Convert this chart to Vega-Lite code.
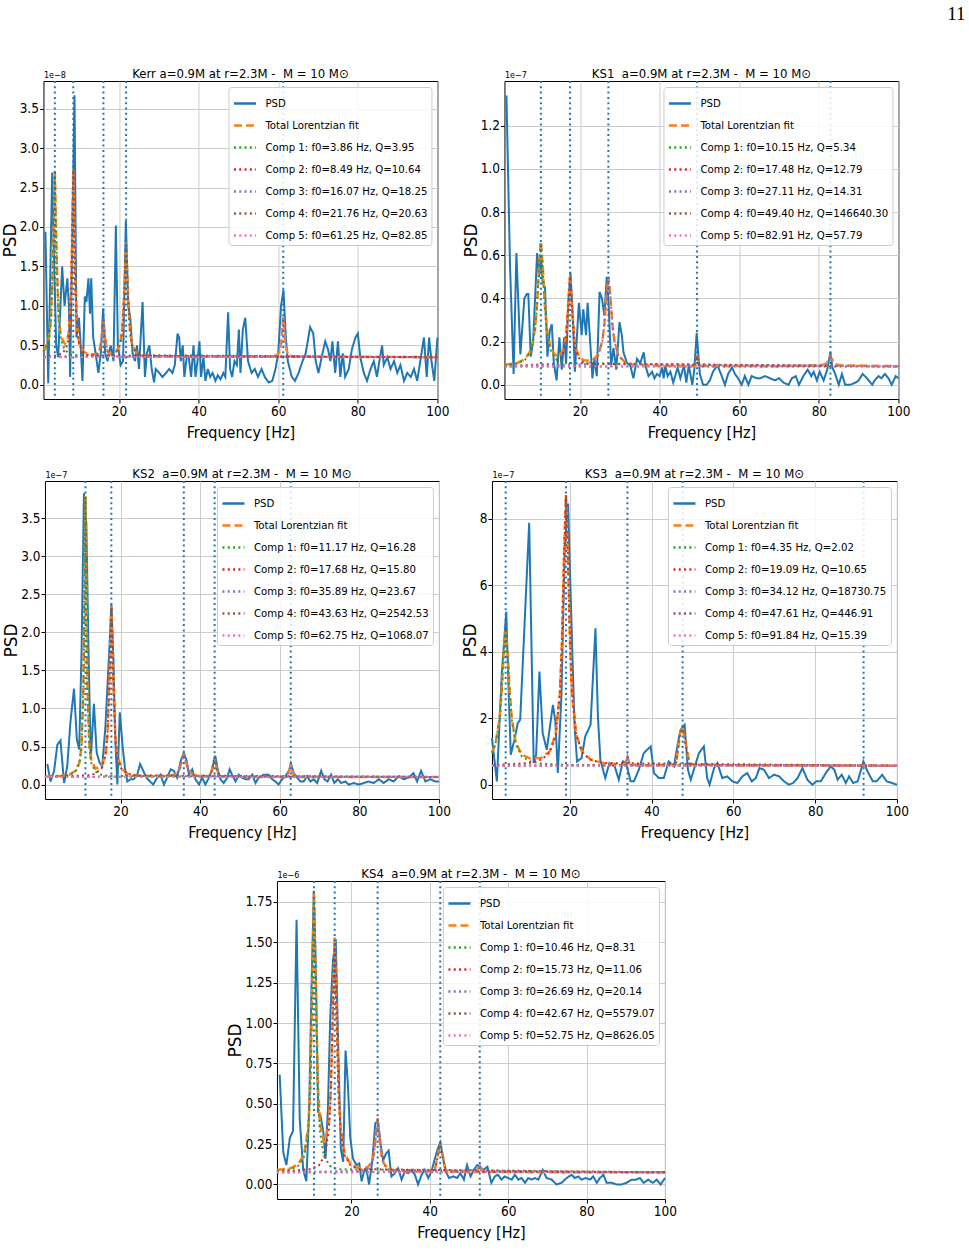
{
"$schema": "https://vega.github.io/schema/vega-lite/v6.json",
"background": "white",
"padding": {"left": 0, "top": 4, "right": 65, "bottom": 0},
"title": {"text": "11", "anchor": "end", "font": "Liberation Serif", "fontSize": 19, "fontWeight": "normal", "color": "#000", "dx": 55, "offset": 44},
"datasets": {
"kerr_f0": [{"f0":3.86},{"f0":8.49},{"f0":16.07},{"f0":21.76},{"f0":61.25}],
"ks1_f0": [{"f0":10.15},{"f0":17.48},{"f0":27.11},{"f0":49.40},{"f0":82.91}],
"ks2_f0": [{"f0":11.17},{"f0":17.68},{"f0":35.89},{"f0":43.63},{"f0":62.75}],
"ks3_f0": [{"f0":4.35},{"f0":19.09},{"f0":34.12},{"f0":47.61},{"f0":91.84}],
"ks4_f0": [{"f0":10.46},{"f0":15.73},{"f0":26.69},{"f0":42.67},{"f0":52.75}],
"kerr": [
{"s":"psd","f":1.5,"v":1.94},{"s":"psd","f":2.2,"v":0.02},{"s":"psd","f":3.2,"v":2.69},{"s":"psd","f":3.7,"v":1.5},{"s":"psd","f":4.2,"v":0.5},{"s":"psd","f":4.7,"v":0.35},{"s":"psd","f":5.7,"v":1.5},{"s":"psd","f":6.3,"v":1.0},{"s":"psd","f":7.0,"v":1.35},{"s":"psd","f":7.4,"v":1.0},{"s":"psd","f":7.7,"v":0.1},{"s":"psd","f":8.8,"v":3.67},{"s":"psd","f":9.3,"v":0.6},{"s":"psd","f":9.9,"v":0.85},{"s":"psd","f":10.3,"v":0.55},{"s":"psd","f":10.8,"v":0.05},{"s":"psd","f":11.4,"v":1.12},{"s":"psd","f":11.8,"v":1.05},{"s":"psd","f":12.3,"v":1.35},{"s":"psd","f":12.7,"v":0.9},{"s":"psd","f":13.0,"v":1.35},{"s":"psd","f":13.5,"v":0.6},{"s":"psd","f":14.1,"v":0.4},{"s":"psd","f":14.8,"v":0.15},{"s":"psd","f":15.4,"v":0.4},{"s":"psd","f":16.0,"v":0.97},{"s":"psd","f":16.5,"v":0.4},{"s":"psd","f":17.1,"v":0.3},{"s":"psd","f":17.9,"v":0.5},{"s":"psd","f":18.6,"v":0.3},{"s":"psd","f":19.2,"v":2.02},{"s":"psd","f":19.7,"v":0.5},{"s":"psd","f":20.4,"v":0.25},{"s":"psd","f":21.0,"v":0.3},{"s":"psd","f":21.7,"v":2.08},{"s":"psd","f":22.3,"v":1.0},{"s":"psd","f":22.8,"v":0.86},{"s":"psd","f":23.4,"v":0.4},{"s":"psd","f":24.0,"v":0.3},{"s":"psd","f":24.5,"v":0.5},{"s":"psd","f":25.0,"v":0.2},{"s":"psd","f":25.9,"v":1.05},{"s":"psd","f":26.5,"v":0.1},{"s":"psd","f":27.0,"v":0.4},{"s":"psd","f":27.6,"v":0.5},{"s":"psd","f":28.2,"v":0.2},{"s":"psd","f":28.8,"v":0.03},{"s":"psd","f":29.2,"v":0.2},{"s":"psd","f":30.1,"v":0.15},{"s":"psd","f":30.9,"v":0.1},{"s":"psd","f":31.8,"v":0.15},{"s":"psd","f":32.6,"v":0.2},{"s":"psd","f":33.4,"v":0.15},{"s":"psd","f":34.0,"v":0.25},{"s":"psd","f":34.7,"v":0.65},{"s":"psd","f":35.1,"v":0.6},{"s":"psd","f":35.5,"v":0.3},{"s":"psd","f":36.0,"v":0.5},{"s":"psd","f":36.4,"v":0.1},{"s":"psd","f":37.0,"v":0.35},{"s":"psd","f":37.5,"v":0.35},{"s":"psd","f":38.1,"v":0.1},{"s":"psd","f":38.7,"v":0.5},{"s":"psd","f":39.2,"v":0.1},{"s":"psd","f":39.7,"v":0.3},{"s":"psd","f":40.2,"v":0.55},{"s":"psd","f":40.6,"v":0.1},{"s":"psd","f":41.2,"v":0.35},{"s":"psd","f":41.7,"v":0.05},{"s":"psd","f":42.3,"v":0.2},{"s":"psd","f":42.9,"v":0.1},{"s":"psd","f":43.5,"v":0.15},{"s":"psd","f":44.2,"v":0.05},{"s":"psd","f":44.8,"v":0.12},{"s":"psd","f":45.5,"v":0.07},{"s":"psd","f":46.2,"v":0.15},{"s":"psd","f":46.7,"v":0.1},{"s":"psd","f":47.4,"v":0.92},{"s":"psd","f":47.9,"v":0.2},{"s":"psd","f":48.4,"v":0.1},{"s":"psd","f":49.0,"v":0.3},{"s":"psd","f":49.6,"v":0.25},{"s":"psd","f":50.1,"v":0.7},{"s":"psd","f":50.5,"v":0.15},{"s":"psd","f":51.1,"v":0.7},{"s":"psd","f":51.7,"v":0.85},{"s":"psd","f":52.4,"v":0.3},{"s":"psd","f":53.3,"v":0.15},{"s":"psd","f":54.1,"v":0.2},{"s":"psd","f":54.9,"v":0.1},{"s":"psd","f":55.8,"v":0.2},{"s":"psd","f":56.6,"v":0.1},{"s":"psd","f":57.6,"v":0.03},{"s":"psd","f":58.5,"v":0.05},{"s":"psd","f":59.3,"v":0.2},{"s":"psd","f":60.0,"v":0.4},{"s":"psd","f":60.7,"v":1.0},{"s":"psd","f":61.3,"v":1.2},{"s":"psd","f":61.9,"v":0.6},{"s":"psd","f":62.4,"v":0.3},{"s":"psd","f":63.4,"v":0.1},{"s":"psd","f":64.2,"v":0.05},{"s":"psd","f":65.1,"v":0.15},{"s":"psd","f":66.1,"v":0.3},{"s":"psd","f":66.9,"v":0.4},{"s":"psd","f":68.0,"v":0.73},{"s":"psd","f":68.8,"v":0.65},{"s":"psd","f":69.4,"v":0.3},{"s":"psd","f":70.1,"v":0.15},{"s":"psd","f":70.9,"v":0.35},{"s":"psd","f":71.8,"v":0.55},{"s":"psd","f":72.5,"v":0.45},{"s":"psd","f":73.1,"v":0.3},{"s":"psd","f":73.6,"v":0.55},{"s":"psd","f":74.3,"v":0.15},{"s":"psd","f":75.0,"v":0.55},{"s":"psd","f":75.6,"v":0.1},{"s":"psd","f":76.2,"v":0.4},{"s":"psd","f":76.8,"v":0.1},{"s":"psd","f":77.7,"v":0.2},{"s":"psd","f":78.5,"v":0.45},{"s":"psd","f":79.4,"v":0.6},{"s":"psd","f":80.0,"v":0.65},{"s":"psd","f":80.6,"v":0.35},{"s":"psd","f":81.5,"v":0.15},{"s":"psd","f":82.3,"v":0.05},{"s":"psd","f":83.2,"v":0.2},{"s":"psd","f":84.0,"v":0.3},{"s":"psd","f":84.8,"v":0.1},{"s":"psd","f":85.4,"v":0.3},{"s":"psd","f":86.1,"v":0.5},{"s":"psd","f":86.5,"v":0.25},{"s":"psd","f":87.4,"v":0.35},{"s":"psd","f":88.2,"v":0.2},{"s":"psd","f":89.1,"v":0.3},{"s":"psd","f":89.9,"v":0.15},{"s":"psd","f":90.7,"v":0.25},{"s":"psd","f":91.6,"v":0.05},{"s":"psd","f":92.4,"v":0.15},{"s":"psd","f":93.3,"v":0.1},{"s":"psd","f":94.1,"v":0.2},{"s":"psd","f":94.9,"v":0.05},{"s":"psd","f":96.0,"v":0.4},{"s":"psd","f":96.6,"v":0.6},{"s":"psd","f":97.3,"v":0.1},{"s":"psd","f":97.9,"v":0.6},{"s":"psd","f":98.5,"v":0.3},{"s":"psd","f":99.2,"v":0.05},{"s":"psd","f":100,"v":0.6},
{"s":"fit","f":1,"v":0.42},{"s":"fit","f":1.36,"v":0.45},{"s":"fit","f":2.36,"v":0.59},{"s":"fit","f":2.86,"v":0.81},{"s":"fit","f":3.36,"v":1.51},{"s":"fit","f":3.86,"v":2.7},{"s":"fit","f":4.36,"v":1.52},{"s":"fit","f":4.86,"v":0.83},{"s":"fit","f":5.36,"v":0.61},{"s":"fit","f":6.36,"v":0.52},{"s":"fit","f":6.99,"v":0.56},{"s":"fit","f":7.49,"v":0.72},{"s":"fit","f":7.99,"v":1.3},{"s":"fit","f":8.49,"v":2.72},{"s":"fit","f":8.99,"v":1.29},{"s":"fit","f":9.49,"v":0.69},{"s":"fit","f":9.99,"v":0.52},{"s":"fit","f":10.99,"v":0.42},{"s":"fit","f":12.49,"v":0.38},{"s":"fit","f":14.57,"v":0.395},{"s":"fit","f":15.07,"v":0.43},{"s":"fit","f":15.57,"v":0.56},{"s":"fit","f":16.07,"v":0.83},{"s":"fit","f":16.57,"v":0.56},{"s":"fit","f":17.07,"v":0.43},{"s":"fit","f":17.57,"v":0.39},{"s":"fit","f":18.57,"v":0.4},{"s":"fit","f":19.26,"v":0.42},{"s":"fit","f":20.26,"v":0.51},{"s":"fit","f":20.76,"v":0.67},{"s":"fit","f":21.26,"v":1.12},{"s":"fit","f":21.76,"v":1.8},{"s":"fit","f":22.26,"v":1.12},{"s":"fit","f":22.76,"v":0.67},{"s":"fit","f":23.26,"v":0.51},{"s":"fit","f":24.26,"v":0.41},{"s":"fit","f":25.76,"v":0.375},{"s":"fit","f":30,"v":0.36},{"s":"fit","f":40,"v":0.355},{"s":"fit","f":55,"v":0.355},{"s":"fit","f":58.75,"v":0.36},{"s":"fit","f":59.75,"v":0.38},{"s":"fit","f":60.25,"v":0.41},{"s":"fit","f":60.75,"v":0.53},{"s":"fit","f":61.25,"v":0.86},{"s":"fit","f":61.75,"v":0.53},{"s":"fit","f":62.25,"v":0.41},{"s":"fit","f":62.75,"v":0.38},{"s":"fit","f":63.75,"v":0.36},{"s":"fit","f":70,"v":0.355},{"s":"fit","f":100,"v":0.35},
{"s":"c1","f":1,"v":0.42},{"s":"c1","f":1.36,"v":0.44},{"s":"c1","f":2.36,"v":0.575},{"s":"c1","f":2.86,"v":0.8},{"s":"c1","f":3.36,"v":1.5},{"s":"c1","f":3.86,"v":2.69},{"s":"c1","f":4.36,"v":1.5},{"s":"c1","f":4.86,"v":0.8},{"s":"c1","f":5.36,"v":0.575},{"s":"c1","f":6.36,"v":0.44},{"s":"c1","f":7.86,"v":0.385},{"s":"c1","f":12,"v":0.36},{"s":"c1","f":100,"v":0.35},
{"s":"c2","f":1,"v":0.357},{"s":"c2","f":4.49,"v":0.37},{"s":"c2","f":5.99,"v":0.41},{"s":"c2","f":6.99,"v":0.505},{"s":"c2","f":7.49,"v":0.67},{"s":"c2","f":7.99,"v":1.26},{"s":"c2","f":8.49,"v":2.69},{"s":"c2","f":8.99,"v":1.26},{"s":"c2","f":9.49,"v":0.67},{"s":"c2","f":9.99,"v":0.505},{"s":"c2","f":10.99,"v":0.41},{"s":"c2","f":12.49,"v":0.37},{"s":"c2","f":100,"v":0.35},
{"s":"c3","f":1,"v":0.35},{"s":"c3","f":12.07,"v":0.356},{"s":"c3","f":13.57,"v":0.365},{"s":"c3","f":14.57,"v":0.39},{"s":"c3","f":15.07,"v":0.43},{"s":"c3","f":15.57,"v":0.56},{"s":"c3","f":16.07,"v":0.83},{"s":"c3","f":16.57,"v":0.56},{"s":"c3","f":17.07,"v":0.43},{"s":"c3","f":17.57,"v":0.39},{"s":"c3","f":18.57,"v":0.365},{"s":"c3","f":20.07,"v":0.356},{"s":"c3","f":100,"v":0.35},
{"s":"c4","f":1,"v":0.35},{"s":"c4","f":17.76,"v":0.375},{"s":"c4","f":19.26,"v":0.41},{"s":"c4","f":20.26,"v":0.51},{"s":"c4","f":20.76,"v":0.67},{"s":"c4","f":21.26,"v":1.12},{"s":"c4","f":21.76,"v":1.8},{"s":"c4","f":22.26,"v":1.12},{"s":"c4","f":22.76,"v":0.67},{"s":"c4","f":23.26,"v":0.51},{"s":"c4","f":24.26,"v":0.41},{"s":"c4","f":25.76,"v":0.375},{"s":"c4","f":100,"v":0.35},
{"s":"c5","f":1,"v":0.35},{"s":"c5","f":57.25,"v":0.354},{"s":"c5","f":58.75,"v":0.36},{"s":"c5","f":59.75,"v":0.38},{"s":"c5","f":60.25,"v":0.41},{"s":"c5","f":60.75,"v":0.53},{"s":"c5","f":61.25,"v":0.86},{"s":"c5","f":61.75,"v":0.53},{"s":"c5","f":62.25,"v":0.41},{"s":"c5","f":62.75,"v":0.38},{"s":"c5","f":63.75,"v":0.36},{"s":"c5","f":65.25,"v":0.354},{"s":"c5","f":100,"v":0.35}
],
"ks1": [
{"s":"psd","f":1.5,"v":1.34},{"s":"psd","f":2.4,"v":0.55},{"s":"psd","f":3.3,"v":0.05},{"s":"psd","f":4.0,"v":0.61},{"s":"psd","f":5.0,"v":0.14},{"s":"psd","f":6.0,"v":0.4},{"s":"psd","f":6.6,"v":0.42},{"s":"psd","f":7.0,"v":0.42},{"s":"psd","f":7.6,"v":0.13},{"s":"psd","f":8.2,"v":0.2},{"s":"psd","f":9.2,"v":0.61},{"s":"psd","f":9.7,"v":0.5},{"s":"psd","f":10.2,"v":0.6},{"s":"psd","f":10.6,"v":0.47},{"s":"psd","f":11.2,"v":0.45},{"s":"psd","f":11.8,"v":0.13},{"s":"psd","f":12.4,"v":0.25},{"s":"psd","f":12.9,"v":0.28},{"s":"psd","f":13.4,"v":0.1},{"s":"psd","f":14.1,"v":0.02},{"s":"psd","f":14.8,"v":0.22},{"s":"psd","f":15.4,"v":0.07},{"s":"psd","f":16.0,"v":0.22},{"s":"psd","f":16.5,"v":0.1},{"s":"psd","f":17.1,"v":0.4},{"s":"psd","f":17.6,"v":0.52},{"s":"psd","f":18.2,"v":0.3},{"s":"psd","f":18.7,"v":0.06},{"s":"psd","f":19.7,"v":0.38},{"s":"psd","f":20.4,"v":0.23},{"s":"psd","f":20.8,"v":0.35},{"s":"psd","f":21.5,"v":0.23},{"s":"psd","f":21.9,"v":0.38},{"s":"psd","f":22.5,"v":0.21},{"s":"psd","f":23.1,"v":0.03},{"s":"psd","f":23.6,"v":0.12},{"s":"psd","f":24.2,"v":0.04},{"s":"psd","f":24.9,"v":0.43},{"s":"psd","f":25.5,"v":0.4},{"s":"psd","f":26.1,"v":0.32},{"s":"psd","f":26.7,"v":0.5},{"s":"psd","f":27.2,"v":0.36},{"s":"psd","f":27.8,"v":0.09},{"s":"psd","f":28.4,"v":0.17},{"s":"psd","f":29.1,"v":0.07},{"s":"psd","f":29.9,"v":0.29},{"s":"psd","f":30.5,"v":0.23},{"s":"psd","f":30.9,"v":0.15},{"s":"psd","f":31.8,"v":0.1},{"s":"psd","f":32.6,"v":0.09},{"s":"psd","f":33.4,"v":0.03},{"s":"psd","f":34.3,"v":0.12},{"s":"psd","f":35.1,"v":0.1},{"s":"psd","f":36.0,"v":0.15},{"s":"psd","f":36.4,"v":0.09},{"s":"psd","f":37.2,"v":0.04},{"s":"psd","f":38.1,"v":0.06},{"s":"psd","f":38.7,"v":0.03},{"s":"psd","f":39.3,"v":0.05},{"s":"psd","f":40.0,"v":0.04},{"s":"psd","f":40.6,"v":0.08},{"s":"psd","f":41.0,"v":0.03},{"s":"psd","f":41.4,"v":0.09},{"s":"psd","f":42.0,"v":0.04},{"s":"psd","f":42.7,"v":0.06},{"s":"psd","f":43.4,"v":0.01},{"s":"psd","f":43.9,"v":0.04},{"s":"psd","f":44.5,"v":0.08},{"s":"psd","f":45.2,"v":0.03},{"s":"psd","f":46.1,"v":0.09},{"s":"psd","f":46.7,"v":0.01},{"s":"psd","f":47.3,"v":0.09},{"s":"psd","f":48.2,"v":0.0},{"s":"psd","f":48.7,"v":0.07},{"s":"psd","f":49.3,"v":0.24},{"s":"psd","f":50.1,"v":0.05},{"s":"psd","f":50.9,"v":0.0},{"s":"psd","f":51.8,"v":0.0},{"s":"psd","f":52.6,"v":0.02},{"s":"psd","f":53.4,"v":0.06},{"s":"psd","f":54.5,"v":0.09},{"s":"psd","f":55.4,"v":0.05},{"s":"psd","f":56.4,"v":0.0},{"s":"psd","f":57.2,"v":0.05},{"s":"psd","f":58.2,"v":0.08},{"s":"psd","f":58.9,"v":0.05},{"s":"psd","f":59.7,"v":0.03},{"s":"psd","f":60.6,"v":0.0},{"s":"psd","f":61.4,"v":0.04},{"s":"psd","f":62.3,"v":0.0},{"s":"psd","f":63.1,"v":0.04},{"s":"psd","f":64.4,"v":0.03},{"s":"psd","f":65.2,"v":0.03},{"s":"psd","f":66.5,"v":0.04},{"s":"psd","f":67.7,"v":0.03},{"s":"psd","f":69.0,"v":0.02},{"s":"psd","f":70.0,"v":0.03},{"s":"psd","f":71.1,"v":0.01},{"s":"psd","f":72.4,"v":0.0},{"s":"psd","f":73.2,"v":0.03},{"s":"psd","f":74.2,"v":0.04},{"s":"psd","f":75.0,"v":0.0},{"s":"psd","f":76.1,"v":0.04},{"s":"psd","f":77.2,"v":0.07},{"s":"psd","f":78.1,"v":0.04},{"s":"psd","f":78.7,"v":0.06},{"s":"psd","f":79.5,"v":0.02},{"s":"psd","f":80.2,"v":0.06},{"s":"psd","f":81.2,"v":0.02},{"s":"psd","f":82.1,"v":0.07},{"s":"psd","f":82.9,"v":0.15},{"s":"psd","f":83.4,"v":0.08},{"s":"psd","f":84.1,"v":0.05},{"s":"psd","f":85.0,"v":0.0},{"s":"psd","f":85.8,"v":0.05},{"s":"psd","f":86.6,"v":0.0},{"s":"psd","f":87.9,"v":0.0},{"s":"psd","f":89.2,"v":0.01},{"s":"psd","f":90.0,"v":0.02},{"s":"psd","f":91.0,"v":0.05},{"s":"psd","f":92.1,"v":0.03},{"s":"psd","f":93.4,"v":0.0},{"s":"psd","f":94.0,"v":0.02},{"s":"psd","f":95.0,"v":0.04},{"s":"psd","f":95.7,"v":0.03},{"s":"psd","f":96.6,"v":0.05},{"s":"psd","f":97.5,"v":0.03},{"s":"psd","f":98.3,"v":0.0},{"s":"psd","f":99.3,"v":0.04},{"s":"psd","f":100,"v":0.03},
{"s":"fit","f":1,"v":0.093},{"s":"fit","f":4.15,"v":0.1},{"s":"fit","f":6.15,"v":0.118},{"s":"fit","f":7.65,"v":0.16},{"s":"fit","f":8.65,"v":0.255},{"s":"fit","f":9.15,"v":0.365},{"s":"fit","f":9.65,"v":0.54},{"s":"fit","f":10.15,"v":0.665},{"s":"fit","f":10.65,"v":0.54},{"s":"fit","f":11.15,"v":0.37},{"s":"fit","f":11.65,"v":0.26},{"s":"fit","f":12.65,"v":0.165},{"s":"fit","f":14.15,"v":0.13},{"s":"fit","f":14.98,"v":0.135},{"s":"fit","f":15.98,"v":0.17},{"s":"fit","f":16.48,"v":0.23},{"s":"fit","f":16.98,"v":0.365},{"s":"fit","f":17.48,"v":0.51},{"s":"fit","f":17.98,"v":0.363},{"s":"fit","f":18.48,"v":0.224},{"s":"fit","f":18.98,"v":0.163},{"s":"fit","f":19.98,"v":0.124},{"s":"fit","f":21.11,"v":0.112},{"s":"fit","f":23.11,"v":0.113},{"s":"fit","f":24.61,"v":0.141},{"s":"fit","f":25.61,"v":0.204},{"s":"fit","f":26.11,"v":0.28},{"s":"fit","f":26.61,"v":0.41},{"s":"fit","f":27.11,"v":0.5},{"s":"fit","f":27.61,"v":0.41},{"s":"fit","f":28.11,"v":0.28},{"s":"fit","f":28.61,"v":0.204},{"s":"fit","f":29.61,"v":0.137},{"s":"fit","f":31.11,"v":0.107},{"s":"fit","f":33.11,"v":0.095},{"s":"fit","f":40,"v":0.088},{"s":"fit","f":48.7,"v":0.087},{"s":"fit","f":49.4,"v":0.13},{"s":"fit","f":50.1,"v":0.087},{"s":"fit","f":70,"v":0.086},{"s":"fit","f":80.41,"v":0.09},{"s":"fit","f":81.41,"v":0.094},{"s":"fit","f":81.91,"v":0.1},{"s":"fit","f":82.41,"v":0.115},{"s":"fit","f":82.91,"v":0.13},{"s":"fit","f":83.41,"v":0.115},{"s":"fit","f":83.91,"v":0.1},{"s":"fit","f":84.41,"v":0.094},{"s":"fit","f":85.41,"v":0.09},{"s":"fit","f":100,"v":0.086},
{"s":"c1","f":1,"v":0.09},{"s":"c1","f":4.15,"v":0.1},{"s":"c1","f":6.15,"v":0.115},{"s":"c1","f":7.65,"v":0.157},{"s":"c1","f":8.65,"v":0.25},{"s":"c1","f":9.15,"v":0.36},{"s":"c1","f":9.65,"v":0.535},{"s":"c1","f":10.15,"v":0.66},{"s":"c1","f":10.65,"v":0.535},{"s":"c1","f":11.15,"v":0.36},{"s":"c1","f":11.65,"v":0.25},{"s":"c1","f":12.65,"v":0.157},{"s":"c1","f":14.15,"v":0.115},{"s":"c1","f":16.15,"v":0.1},{"s":"c1","f":100,"v":0.085},
{"s":"c2","f":1,"v":0.086},{"s":"c2","f":13.48,"v":0.097},{"s":"c2","f":14.98,"v":0.114},{"s":"c2","f":15.98,"v":0.156},{"s":"c2","f":16.48,"v":0.216},{"s":"c2","f":16.98,"v":0.354},{"s":"c2","f":17.48,"v":0.5},{"s":"c2","f":17.98,"v":0.354},{"s":"c2","f":18.48,"v":0.216},{"s":"c2","f":18.98,"v":0.156},{"s":"c2","f":19.98,"v":0.114},{"s":"c2","f":21.48,"v":0.097},{"s":"c2","f":100,"v":0.085},
{"s":"c3","f":1,"v":0.086},{"s":"c3","f":21.11,"v":0.095},{"s":"c3","f":23.11,"v":0.107},{"s":"c3","f":24.61,"v":0.137},{"s":"c3","f":25.61,"v":0.204},{"s":"c3","f":26.11,"v":0.28},{"s":"c3","f":26.61,"v":0.41},{"s":"c3","f":27.11,"v":0.5},{"s":"c3","f":27.61,"v":0.41},{"s":"c3","f":28.11,"v":0.28},{"s":"c3","f":28.61,"v":0.204},{"s":"c3","f":29.61,"v":0.137},{"s":"c3","f":31.11,"v":0.107},{"s":"c3","f":33.11,"v":0.095},{"s":"c3","f":100,"v":0.085},
{"s":"c4","f":1,"v":0.085},{"s":"c4","f":48.7,"v":0.085},{"s":"c4","f":49.4,"v":0.13},{"s":"c4","f":50.1,"v":0.085},{"s":"c4","f":100,"v":0.085},
{"s":"c5","f":1,"v":0.085},{"s":"c5","f":80.41,"v":0.089},{"s":"c5","f":81.41,"v":0.093},{"s":"c5","f":81.91,"v":0.1},{"s":"c5","f":82.41,"v":0.115},{"s":"c5","f":82.91,"v":0.13},{"s":"c5","f":83.41,"v":0.115},{"s":"c5","f":83.91,"v":0.1},{"s":"c5","f":84.41,"v":0.093},{"s":"c5","f":85.41,"v":0.089},{"s":"c5","f":100,"v":0.085}
],
"ks2": [
{"s":"psd","f":1.6,"v":0.27},{"s":"psd","f":2.4,"v":0.04},{"s":"psd","f":3.3,"v":0.18},{"s":"psd","f":4.1,"v":0.52},{"s":"psd","f":4.9,"v":0.58},{"s":"psd","f":5.8,"v":0.02},{"s":"psd","f":6.6,"v":0.24},{"s":"psd","f":7.4,"v":0.82},{"s":"psd","f":8.3,"v":1.26},{"s":"psd","f":9.0,"v":0.6},{"s":"psd","f":9.6,"v":0.46},{"s":"psd","f":10.2,"v":1.75},{"s":"psd","f":10.8,"v":3.83},{"s":"psd","f":11.4,"v":3.43},{"s":"psd","f":11.9,"v":1.88},{"s":"psd","f":12.5,"v":0.33},{"s":"psd","f":13.3,"v":1.06},{"s":"psd","f":14.0,"v":0.42},{"s":"psd","f":14.7,"v":0.29},{"s":"psd","f":15.4,"v":0.24},{"s":"psd","f":16.2,"v":0.77},{"s":"psd","f":17.1,"v":1.7},{"s":"psd","f":17.7,"v":2.37},{"s":"psd","f":18.2,"v":1.66},{"s":"psd","f":18.7,"v":0.55},{"s":"psd","f":19.2,"v":0.0},{"s":"psd","f":19.8,"v":0.95},{"s":"psd","f":20.5,"v":0.51},{"s":"psd","f":21.1,"v":0.22},{"s":"psd","f":21.7,"v":0.04},{"s":"psd","f":22.5,"v":0.07},{"s":"psd","f":23.3,"v":0.07},{"s":"psd","f":24.2,"v":0.13},{"s":"psd","f":24.9,"v":0.27},{"s":"psd","f":25.7,"v":0.18},{"s":"psd","f":26.5,"v":0.09},{"s":"psd","f":27.4,"v":0.04},{"s":"psd","f":28.2,"v":0.0},{"s":"psd","f":29.2,"v":0.09},{"s":"psd","f":30.0,"v":0.13},{"s":"psd","f":30.9,"v":0.0},{"s":"psd","f":31.7,"v":0.09},{"s":"psd","f":32.6,"v":0.2},{"s":"psd","f":33.4,"v":0.18},{"s":"psd","f":34.2,"v":0.09},{"s":"psd","f":35.1,"v":0.31},{"s":"psd","f":35.9,"v":0.42},{"s":"psd","f":36.6,"v":0.31},{"s":"psd","f":37.2,"v":0.13},{"s":"psd","f":38.0,"v":0.2},{"s":"psd","f":38.8,"v":0.07},{"s":"psd","f":39.7,"v":0.0},{"s":"psd","f":40.5,"v":0.09},{"s":"psd","f":41.3,"v":0.0},{"s":"psd","f":42.2,"v":0.09},{"s":"psd","f":43.0,"v":0.2},{"s":"psd","f":43.8,"v":0.38},{"s":"psd","f":44.4,"v":0.2},{"s":"psd","f":45.1,"v":0.07},{"s":"psd","f":45.9,"v":0.02},{"s":"psd","f":46.8,"v":0.09},{"s":"psd","f":47.4,"v":0.2},{"s":"psd","f":48.0,"v":0.13},{"s":"psd","f":48.9,"v":0.04},{"s":"psd","f":49.7,"v":0.13},{"s":"psd","f":50.5,"v":0.09},{"s":"psd","f":51.4,"v":0.07},{"s":"psd","f":52.2,"v":0.07},{"s":"psd","f":53.1,"v":0.13},{"s":"psd","f":53.9,"v":0.02},{"s":"psd","f":54.7,"v":0.09},{"s":"psd","f":56.0,"v":0.13},{"s":"psd","f":57.2,"v":0.13},{"s":"psd","f":58.1,"v":0.07},{"s":"psd","f":58.9,"v":0.04},{"s":"psd","f":59.7,"v":0.0},{"s":"psd","f":60.6,"v":0.07},{"s":"psd","f":61.4,"v":0.11},{"s":"psd","f":62.3,"v":0.18},{"s":"psd","f":62.8,"v":0.28},{"s":"psd","f":63.5,"v":0.15},{"s":"psd","f":64.4,"v":0.09},{"s":"psd","f":65.2,"v":0.04},{"s":"psd","f":66.0,"v":0.04},{"s":"psd","f":66.9,"v":0.11},{"s":"psd","f":67.7,"v":0.04},{"s":"psd","f":68.5,"v":0.07},{"s":"psd","f":69.4,"v":0.02},{"s":"psd","f":70.4,"v":0.18},{"s":"psd","f":71.2,"v":0.07},{"s":"psd","f":72.0,"v":0.04},{"s":"psd","f":72.9,"v":0.13},{"s":"psd","f":73.7,"v":0.02},{"s":"psd","f":74.6,"v":0.07},{"s":"psd","f":75.4,"v":0.02},{"s":"psd","f":76.5,"v":0.04},{"s":"psd","f":77.3,"v":0.0},{"s":"psd","f":78.6,"v":0.02},{"s":"psd","f":79.8,"v":0.0},{"s":"psd","f":81.1,"v":0.02},{"s":"psd","f":82.3,"v":0.04},{"s":"psd","f":83.6,"v":0.02},{"s":"psd","f":84.9,"v":0.07},{"s":"psd","f":86.1,"v":0.02},{"s":"psd","f":87.4,"v":0.07},{"s":"psd","f":88.6,"v":0.04},{"s":"psd","f":89.9,"v":0.11},{"s":"psd","f":91.1,"v":0.07},{"s":"psd","f":92.4,"v":0.09},{"s":"psd","f":93.6,"v":0.15},{"s":"psd","f":94.5,"v":0.04},{"s":"psd","f":95.5,"v":0.18},{"s":"psd","f":96.6,"v":0.04},{"s":"psd","f":97.8,"v":0.07},{"s":"psd","f":99.1,"v":0.04},{"s":"psd","f":100,"v":0.04},
{"s":"fit","f":1,"v":0.104},{"s":"fit","f":5.17,"v":0.115},{"s":"fit","f":7.17,"v":0.13},{"s":"fit","f":8.67,"v":0.18},{"s":"fit","f":9.67,"v":0.29},{"s":"fit","f":10.17,"v":0.5},{"s":"fit","f":10.67,"v":1.29},{"s":"fit","f":11.17,"v":3.79},{"s":"fit","f":11.67,"v":1.3},{"s":"fit","f":12.17,"v":0.51},{"s":"fit","f":12.67,"v":0.31},{"s":"fit","f":13.68,"v":0.21},{"s":"fit","f":15.18,"v":0.24},{"s":"fit","f":16.18,"v":0.385},{"s":"fit","f":16.68,"v":0.64},{"s":"fit","f":17.18,"v":1.35},{"s":"fit","f":17.68,"v":2.34},{"s":"fit","f":18.18,"v":1.35},{"s":"fit","f":18.68,"v":0.64},{"s":"fit","f":19.18,"v":0.38},{"s":"fit","f":20.18,"v":0.215},{"s":"fit","f":21.68,"v":0.145},{"s":"fit","f":23.68,"v":0.12},{"s":"fit","f":28,"v":0.11},{"s":"fit","f":31.89,"v":0.115},{"s":"fit","f":33.39,"v":0.13},{"s":"fit","f":34.39,"v":0.165},{"s":"fit","f":34.89,"v":0.21},{"s":"fit","f":35.39,"v":0.31},{"s":"fit","f":35.89,"v":0.4},{"s":"fit","f":36.39,"v":0.31},{"s":"fit","f":36.89,"v":0.21},{"s":"fit","f":37.39,"v":0.165},{"s":"fit","f":38.39,"v":0.13},{"s":"fit","f":39.89,"v":0.115},{"s":"fit","f":42.4,"v":0.11},{"s":"fit","f":43.0,"v":0.2},{"s":"fit","f":43.63,"v":0.36},{"s":"fit","f":44.2,"v":0.2},{"s":"fit","f":44.8,"v":0.11},{"s":"fit","f":50,"v":0.1},{"s":"fit","f":61.6,"v":0.1},{"s":"fit","f":62.2,"v":0.15},{"s":"fit","f":62.75,"v":0.25},{"s":"fit","f":63.3,"v":0.15},{"s":"fit","f":63.9,"v":0.1},{"s":"fit","f":100,"v":0.1},
{"s":"c1","f":1,"v":0.104},{"s":"c1","f":5.17,"v":0.112},{"s":"c1","f":7.17,"v":0.127},{"s":"c1","f":8.67,"v":0.17},{"s":"c1","f":9.67,"v":0.28},{"s":"c1","f":10.17,"v":0.49},{"s":"c1","f":10.67,"v":1.28},{"s":"c1","f":11.17,"v":3.78},{"s":"c1","f":11.67,"v":1.28},{"s":"c1","f":12.17,"v":0.49},{"s":"c1","f":12.67,"v":0.28},{"s":"c1","f":13.67,"v":0.17},{"s":"c1","f":15.17,"v":0.127},{"s":"c1","f":17.17,"v":0.112},{"s":"c1","f":100,"v":0.1},
{"s":"c2","f":1,"v":0.1},{"s":"c2","f":11.68,"v":0.12},{"s":"c2","f":13.68,"v":0.143},{"s":"c2","f":15.18,"v":0.21},{"s":"c2","f":16.18,"v":0.37},{"s":"c2","f":16.68,"v":0.63},{"s":"c2","f":17.18,"v":1.34},{"s":"c2","f":17.68,"v":2.33},{"s":"c2","f":18.18,"v":1.34},{"s":"c2","f":18.68,"v":0.63},{"s":"c2","f":19.18,"v":0.37},{"s":"c2","f":20.18,"v":0.21},{"s":"c2","f":21.68,"v":0.143},{"s":"c2","f":23.68,"v":0.12},{"s":"c2","f":100,"v":0.1},
{"s":"c3","f":1,"v":0.1},{"s":"c3","f":31.89,"v":0.11},{"s":"c3","f":33.39,"v":0.125},{"s":"c3","f":34.39,"v":0.162},{"s":"c3","f":34.89,"v":0.21},{"s":"c3","f":35.39,"v":0.31},{"s":"c3","f":35.89,"v":0.4},{"s":"c3","f":36.39,"v":0.31},{"s":"c3","f":36.89,"v":0.21},{"s":"c3","f":37.39,"v":0.162},{"s":"c3","f":38.39,"v":0.125},{"s":"c3","f":39.89,"v":0.11},{"s":"c3","f":100,"v":0.1},
{"s":"c4","f":1,"v":0.1},{"s":"c4","f":42.4,"v":0.1},{"s":"c4","f":43.0,"v":0.19},{"s":"c4","f":43.63,"v":0.36},{"s":"c4","f":44.2,"v":0.19},{"s":"c4","f":44.8,"v":0.1},{"s":"c4","f":100,"v":0.1},
{"s":"c5","f":1,"v":0.1},{"s":"c5","f":61.6,"v":0.1},{"s":"c5","f":62.2,"v":0.15},{"s":"c5","f":62.75,"v":0.25},{"s":"c5","f":63.3,"v":0.15},{"s":"c5","f":63.9,"v":0.1},{"s":"c5","f":100,"v":0.1}
],
"ks3": [
{"s":"psd","f":1.0,"v":1.4},{"s":"psd","f":2.2,"v":0.1},{"s":"psd","f":3.4,"v":3.35},{"s":"psd","f":4.5,"v":5.2},{"s":"psd","f":5.1,"v":2.75},{"s":"psd","f":5.6,"v":0.9},{"s":"psd","f":6.5,"v":1.35},{"s":"psd","f":7.3,"v":1.85},{"s":"psd","f":7.9,"v":1.95},{"s":"psd","f":10.1,"v":7.87},{"s":"psd","f":11.2,"v":0.65},{"s":"psd","f":11.8,"v":0.9},{"s":"psd","f":12.6,"v":3.4},{"s":"psd","f":13.4,"v":1.55},{"s":"psd","f":14.4,"v":1.05},{"s":"psd","f":15.9,"v":2.4},{"s":"psd","f":16.5,"v":1.9},{"s":"psd","f":17.1,"v":0.35},{"s":"psd","f":18.0,"v":2.75},{"s":"psd","f":18.8,"v":7.15},{"s":"psd","f":19.6,"v":8.45},{"s":"psd","f":20.6,"v":4.15},{"s":"psd","f":21.2,"v":1.75},{"s":"psd","f":21.8,"v":0.7},{"s":"psd","f":22.9,"v":0.8},{"s":"psd","f":23.8,"v":1.45},{"s":"psd","f":25.1,"v":1.8},{"s":"psd","f":26.3,"v":4.7},{"s":"psd","f":26.9,"v":2.05},{"s":"psd","f":27.5,"v":0.75},{"s":"psd","f":28.7,"v":0.2},{"s":"psd","f":29.7,"v":0.65},{"s":"psd","f":31.0,"v":0.55},{"s":"psd","f":32.0,"v":0.15},{"s":"psd","f":33.0,"v":0.7},{"s":"psd","f":33.8,"v":0.65},{"s":"psd","f":34.9,"v":0.1},{"s":"psd","f":35.7,"v":0.1},{"s":"psd","f":36.9,"v":0.45},{"s":"psd","f":38.1,"v":0.95},{"s":"psd","f":39.8,"v":1.15},{"s":"psd","f":40.6,"v":0.35},{"s":"psd","f":41.8,"v":0.2},{"s":"psd","f":43.0,"v":0.2},{"s":"psd","f":44.2,"v":0.7},{"s":"psd","f":45.5,"v":0.55},{"s":"psd","f":46.3,"v":1.15},{"s":"psd","f":47.1,"v":1.65},{"s":"psd","f":48.1,"v":1.8},{"s":"psd","f":48.9,"v":0.45},{"s":"psd","f":49.6,"v":0.15},{"s":"psd","f":51.6,"v":0.95},{"s":"psd","f":52.8,"v":1.15},{"s":"psd","f":53.6,"v":0.2},{"s":"psd","f":54.2,"v":0.0},{"s":"psd","f":55.3,"v":0.5},{"s":"psd","f":56.1,"v":0.65},{"s":"psd","f":57.3,"v":0.2},{"s":"psd","f":58.5,"v":0.25},{"s":"psd","f":59.8,"v":0.1},{"s":"psd","f":61.0,"v":0.05},{"s":"psd","f":62.2,"v":0.25},{"s":"psd","f":63.4,"v":0.35},{"s":"psd","f":64.5,"v":0.1},{"s":"psd","f":65.5,"v":0.2},{"s":"psd","f":66.4,"v":0.5},{"s":"psd","f":67.5,"v":0.45},{"s":"psd","f":68.7,"v":0.2},{"s":"psd","f":70.0,"v":0.3},{"s":"psd","f":71.2,"v":0.25},{"s":"psd","f":72.4,"v":0.1},{"s":"psd","f":73.6,"v":0.0},{"s":"psd","f":74.6,"v":0.05},{"s":"psd","f":75.7,"v":0.2},{"s":"psd","f":76.9,"v":0.5},{"s":"psd","f":78.1,"v":0.15},{"s":"psd","f":79.3,"v":0.0},{"s":"psd","f":80.3,"v":0.1},{"s":"psd","f":81.4,"v":0.1},{"s":"psd","f":82.6,"v":0.35},{"s":"psd","f":83.8,"v":0.55},{"s":"psd","f":84.7,"v":0.45},{"s":"psd","f":85.5,"v":0.15},{"s":"psd","f":86.5,"v":0.3},{"s":"psd","f":87.5,"v":0.05},{"s":"psd","f":88.3,"v":0.25},{"s":"psd","f":89.3,"v":0.05},{"s":"psd","f":90.4,"v":0.1},{"s":"psd","f":91.8,"v":0.7},{"s":"psd","f":92.8,"v":0.4},{"s":"psd","f":94.1,"v":0.1},{"s":"psd","f":95.0,"v":0.1},{"s":"psd","f":96.4,"v":0.3},{"s":"psd","f":97.5,"v":0.1},{"s":"psd","f":98.8,"v":0.05},{"s":"psd","f":100,"v":0.0},
{"s":"fit","f":1,"v":0.97},{"s":"fit","f":1.85,"v":1.23},{"s":"fit","f":2.85,"v":1.97},{"s":"fit","f":3.35,"v":2.77},{"s":"fit","f":3.85,"v":3.93},{"s":"fit","f":4.35,"v":4.65},{"s":"fit","f":4.85,"v":3.93},{"s":"fit","f":5.35,"v":2.77},{"s":"fit","f":5.85,"v":1.98},{"s":"fit","f":6.85,"v":1.25},{"s":"fit","f":8.35,"v":0.9},{"s":"fit","f":10.35,"v":0.785},{"s":"fit","f":13.09,"v":0.81},{"s":"fit","f":15.09,"v":1.0},{"s":"fit","f":16.59,"v":1.525},{"s":"fit","f":17.59,"v":2.735},{"s":"fit","f":18.09,"v":4.21},{"s":"fit","f":18.59,"v":6.79},{"s":"fit","f":19.09,"v":8.72},{"s":"fit","f":19.59,"v":6.79},{"s":"fit","f":20.09,"v":4.21},{"s":"fit","f":20.59,"v":2.73},{"s":"fit","f":21.59,"v":1.51},{"s":"fit","f":23.09,"v":0.97},{"s":"fit","f":25.09,"v":0.76},{"s":"fit","f":28.09,"v":0.655},{"s":"fit","f":33.5,"v":0.6},{"s":"fit","f":34.12,"v":0.85},{"s":"fit","f":34.7,"v":0.6},{"s":"fit","f":40,"v":0.58},{"s":"fit","f":46.0,"v":0.62},{"s":"fit","f":46.9,"v":1.5},{"s":"fit","f":47.61,"v":1.75},{"s":"fit","f":48.4,"v":1.2},{"s":"fit","f":49.3,"v":0.62},{"s":"fit","f":60,"v":0.575},{"s":"fit","f":100,"v":0.575},
{"s":"c1","f":1,"v":0.95},{"s":"c1","f":1.85,"v":1.21},{"s":"c1","f":2.85,"v":1.945},{"s":"c1","f":3.35,"v":2.74},{"s":"c1","f":3.85,"v":3.9},{"s":"c1","f":4.35,"v":4.62},{"s":"c1","f":4.85,"v":3.9},{"s":"c1","f":5.35,"v":2.74},{"s":"c1","f":5.85,"v":1.945},{"s":"c1","f":6.85,"v":1.21},{"s":"c1","f":8.35,"v":0.84},{"s":"c1","f":10.35,"v":0.7},{"s":"c1","f":13.35,"v":0.63},{"s":"c1","f":20,"v":0.59},{"s":"c1","f":100,"v":0.57},
{"s":"c2","f":1,"v":0.59},{"s":"c2","f":10.09,"v":0.65},{"s":"c2","f":13.09,"v":0.75},{"s":"c2","f":15.09,"v":0.96},{"s":"c2","f":16.59,"v":1.495},{"s":"c2","f":17.59,"v":2.71},{"s":"c2","f":18.09,"v":4.19},{"s":"c2","f":18.59,"v":6.77},{"s":"c2","f":19.09,"v":8.7},{"s":"c2","f":19.59,"v":6.77},{"s":"c2","f":20.09,"v":4.19},{"s":"c2","f":20.59,"v":2.71},{"s":"c2","f":21.59,"v":1.495},{"s":"c2","f":23.09,"v":0.96},{"s":"c2","f":25.09,"v":0.75},{"s":"c2","f":28.09,"v":0.65},{"s":"c2","f":100,"v":0.57},
{"s":"c3","f":1,"v":0.57},{"s":"c3","f":33.5,"v":0.57},{"s":"c3","f":34.12,"v":0.85},{"s":"c3","f":34.7,"v":0.57},{"s":"c3","f":100,"v":0.57},
{"s":"c4","f":1,"v":0.57},{"s":"c4","f":46.0,"v":0.6},{"s":"c4","f":46.9,"v":1.45},{"s":"c4","f":47.61,"v":1.75},{"s":"c4","f":48.4,"v":1.15},{"s":"c4","f":49.3,"v":0.6},{"s":"c4","f":100,"v":0.57},
{"s":"c5","f":1,"v":0.57},{"s":"c5","f":85,"v":0.572},{"s":"c5","f":91.84,"v":0.58},{"s":"c5","f":98,"v":0.572},{"s":"c5","f":100,"v":0.571}
],
"ks4": [
{"s":"psd","f":1.7,"v":0.68},{"s":"psd","f":2.6,"v":0.2},{"s":"psd","f":3.4,"v":0.12},{"s":"psd","f":4.3,"v":0.29},{"s":"psd","f":5.1,"v":0.33},{"s":"psd","f":6.0,"v":1.64},{"s":"psd","f":6.8,"v":0.41},{"s":"psd","f":7.7,"v":0.09},{"s":"psd","f":8.5,"v":0.02},{"s":"psd","f":9.2,"v":0.45},{"s":"psd","f":9.8,"v":1.2},{"s":"psd","f":10.4,"v":1.82},{"s":"psd","f":10.9,"v":1.37},{"s":"psd","f":11.5,"v":0.45},{"s":"psd","f":12.1,"v":0.43},{"s":"psd","f":12.8,"v":0.33},{"s":"psd","f":13.4,"v":0.16},{"s":"psd","f":14.0,"v":0.47},{"s":"psd","f":14.6,"v":1.04},{"s":"psd","f":15.3,"v":1.39},{"s":"psd","f":16.0,"v":1.52},{"s":"psd","f":16.7,"v":0.79},{"s":"psd","f":17.3,"v":0.22},{"s":"psd","f":17.9,"v":0.14},{"s":"psd","f":18.5,"v":0.83},{"s":"psd","f":19.1,"v":0.62},{"s":"psd","f":19.7,"v":0.29},{"s":"psd","f":20.4,"v":0.16},{"s":"psd","f":21.3,"v":0.12},{"s":"psd","f":22.0,"v":0.13},{"s":"psd","f":22.6,"v":0.02},{"s":"psd","f":23.1,"v":0.07},{"s":"psd","f":23.8,"v":0.1},{"s":"psd","f":24.5,"v":0.0},{"s":"psd","f":25.3,"v":0.14},{"s":"psd","f":26.1,"v":0.38},{"s":"psd","f":26.8,"v":0.39},{"s":"psd","f":27.5,"v":0.24},{"s":"psd","f":28.1,"v":0.15},{"s":"psd","f":28.8,"v":0.19},{"s":"psd","f":29.5,"v":0.21},{"s":"psd","f":30.2,"v":0.05},{"s":"psd","f":31.1,"v":0.07},{"s":"psd","f":31.9,"v":0.1},{"s":"psd","f":32.8,"v":0.03},{"s":"psd","f":33.6,"v":0.08},{"s":"psd","f":34.5,"v":0.07},{"s":"psd","f":35.3,"v":0.09},{"s":"psd","f":36.2,"v":0.06},{"s":"psd","f":37.0,"v":0.0},{"s":"psd","f":37.9,"v":0.06},{"s":"psd","f":38.7,"v":0.09},{"s":"psd","f":39.6,"v":0.04},{"s":"psd","f":40.4,"v":0.08},{"s":"psd","f":41.3,"v":0.16},{"s":"psd","f":42.0,"v":0.22},{"s":"psd","f":42.7,"v":0.26},{"s":"psd","f":43.4,"v":0.16},{"s":"psd","f":44.1,"v":0.08},{"s":"psd","f":44.9,"v":0.04},{"s":"psd","f":46.0,"v":0.05},{"s":"psd","f":47.0,"v":0.04},{"s":"psd","f":47.8,"v":0.07},{"s":"psd","f":48.7,"v":0.03},{"s":"psd","f":49.5,"v":0.12},{"s":"psd","f":50.4,"v":0.05},{"s":"psd","f":51.2,"v":0.09},{"s":"psd","f":52.1,"v":0.12},{"s":"psd","f":52.8,"v":0.11},{"s":"psd","f":53.6,"v":0.09},{"s":"psd","f":54.7,"v":0.11},{"s":"psd","f":55.7,"v":0.01},{"s":"psd","f":56.6,"v":0.05},{"s":"psd","f":57.4,"v":0.06},{"s":"psd","f":58.3,"v":0.03},{"s":"psd","f":59.1,"v":0.05},{"s":"psd","f":60.0,"v":0.04},{"s":"psd","f":60.9,"v":0.03},{"s":"psd","f":61.7,"v":0.06},{"s":"psd","f":62.6,"v":0.03},{"s":"psd","f":63.4,"v":0.04},{"s":"psd","f":64.3,"v":0.01},{"s":"psd","f":65.1,"v":0.04},{"s":"psd","f":66.0,"v":0.03},{"s":"psd","f":66.8,"v":0.04},{"s":"psd","f":67.7,"v":0.03},{"s":"psd","f":68.8,"v":0.09},{"s":"psd","f":69.8,"v":0.04},{"s":"psd","f":71.1,"v":0.03},{"s":"psd","f":72.3,"v":0.0},{"s":"psd","f":73.6,"v":0.01},{"s":"psd","f":74.9,"v":0.04},{"s":"psd","f":76.2,"v":0.06},{"s":"psd","f":77.0,"v":0.04},{"s":"psd","f":77.9,"v":0.05},{"s":"psd","f":78.7,"v":0.03},{"s":"psd","f":79.8,"v":0.04},{"s":"psd","f":80.9,"v":0.03},{"s":"psd","f":81.7,"v":0.05},{"s":"psd","f":82.6,"v":0.01},{"s":"psd","f":83.4,"v":0.04},{"s":"psd","f":84.3,"v":0.06},{"s":"psd","f":85.1,"v":0.01},{"s":"psd","f":86.4,"v":0.01},{"s":"psd","f":87.7,"v":0.0},{"s":"psd","f":88.9,"v":0.0},{"s":"psd","f":90.2,"v":0.01},{"s":"psd","f":91.5,"v":0.03},{"s":"psd","f":92.6,"v":0.03},{"s":"psd","f":93.6,"v":0.04},{"s":"psd","f":94.6,"v":0.01},{"s":"psd","f":95.7,"v":0.03},{"s":"psd","f":96.9,"v":0.01},{"s":"psd","f":97.9,"v":0.03},{"s":"psd","f":98.9,"v":0.0},{"s":"psd","f":100,"v":0.04},
{"s":"fit","f":1,"v":0.09},{"s":"fit","f":4.46,"v":0.1},{"s":"fit","f":6.46,"v":0.126},{"s":"fit","f":7.96,"v":0.19},{"s":"fit","f":8.96,"v":0.35},{"s":"fit","f":9.46,"v":0.58},{"s":"fit","f":9.96,"v":1.145},{"s":"fit","f":10.46,"v":1.81},{"s":"fit","f":10.96,"v":1.155},{"s":"fit","f":11.46,"v":0.61},{"s":"fit","f":11.96,"v":0.378},{"s":"fit","f":12.96,"v":0.265},{"s":"fit","f":13.23,"v":0.265},{"s":"fit","f":14.23,"v":0.38},{"s":"fit","f":14.73,"v":0.59},{"s":"fit","f":15.23,"v":1.06},{"s":"fit","f":15.73,"v":1.53},{"s":"fit","f":16.23,"v":1.05},{"s":"fit","f":16.73,"v":0.573},{"s":"fit","f":17.23,"v":0.352},{"s":"fit","f":18.23,"v":0.194},{"s":"fit","f":19.73,"v":0.127},{"s":"fit","f":21.73,"v":0.104},{"s":"fit","f":22.69,"v":0.1},{"s":"fit","f":24.19,"v":0.107},{"s":"fit","f":25.19,"v":0.138},{"s":"fit","f":25.69,"v":0.184},{"s":"fit","f":26.19,"v":0.29},{"s":"fit","f":26.69,"v":0.41},{"s":"fit","f":27.19,"v":0.29},{"s":"fit","f":27.69,"v":0.18},{"s":"fit","f":28.19,"v":0.135},{"s":"fit","f":29.19,"v":0.1},{"s":"fit","f":30.69,"v":0.087},{"s":"fit","f":35,"v":0.08},{"s":"fit","f":41.2,"v":0.08},{"s":"fit","f":42.0,"v":0.18},{"s":"fit","f":42.67,"v":0.26},{"s":"fit","f":43.3,"v":0.18},{"s":"fit","f":44.1,"v":0.08},{"s":"fit","f":51.9,"v":0.077},{"s":"fit","f":52.75,"v":0.12},{"s":"fit","f":53.6,"v":0.077},{"s":"fit","f":100,"v":0.075},
{"s":"c1","f":1,"v":0.083},{"s":"c1","f":4.46,"v":0.094},{"s":"c1","f":6.46,"v":0.116},{"s":"c1","f":7.96,"v":0.176},{"s":"c1","f":8.96,"v":0.329},{"s":"c1","f":9.46,"v":0.556},{"s":"c1","f":9.96,"v":1.115},{"s":"c1","f":10.46,"v":1.775},{"s":"c1","f":10.96,"v":1.115},{"s":"c1","f":11.46,"v":0.556},{"s":"c1","f":11.96,"v":0.329},{"s":"c1","f":12.96,"v":0.176},{"s":"c1","f":14.46,"v":0.116},{"s":"c1","f":16.46,"v":0.094},{"s":"c1","f":100,"v":0.075},
{"s":"c2","f":1,"v":0.078},{"s":"c2","f":9.73,"v":0.095},{"s":"c2","f":11.73,"v":0.119},{"s":"c2","f":13.23,"v":0.182},{"s":"c2","f":14.23,"v":0.337},{"s":"c2","f":14.73,"v":0.555},{"s":"c2","f":15.23,"v":1.03},{"s":"c2","f":15.73,"v":1.505},{"s":"c2","f":16.23,"v":1.03},{"s":"c2","f":16.73,"v":0.555},{"s":"c2","f":17.23,"v":0.337},{"s":"c2","f":18.23,"v":0.182},{"s":"c2","f":19.73,"v":0.119},{"s":"c2","f":21.73,"v":0.095},{"s":"c2","f":100,"v":0.075},
{"s":"c3","f":1,"v":0.075},{"s":"c3","f":22.69,"v":0.084},{"s":"c3","f":24.19,"v":0.097},{"s":"c3","f":25.19,"v":0.13},{"s":"c3","f":25.69,"v":0.177},{"s":"c3","f":26.19,"v":0.288},{"s":"c3","f":26.69,"v":0.41},{"s":"c3","f":27.19,"v":0.288},{"s":"c3","f":27.69,"v":0.177},{"s":"c3","f":28.19,"v":0.13},{"s":"c3","f":29.19,"v":0.097},{"s":"c3","f":30.69,"v":0.084},{"s":"c3","f":100,"v":0.075},
{"s":"c4","f":1,"v":0.075},{"s":"c4","f":41.2,"v":0.078},{"s":"c4","f":42.0,"v":0.17},{"s":"c4","f":42.67,"v":0.26},{"s":"c4","f":43.3,"v":0.17},{"s":"c4","f":44.1,"v":0.078},{"s":"c4","f":100,"v":0.075},
{"s":"c5","f":1,"v":0.075},{"s":"c5","f":51.9,"v":0.075},{"s":"c5","f":52.75,"v":0.12},{"s":"c5","f":53.6,"v":0.075},{"s":"c5","f":100,"v":0.075}
]
},
"vconcat": [
{"hconcat": [
{"width": 394, "height": 318, "title": {"text": "Kerr a=0.9M at r=2.3M -\u00a0 M = 10 M⊙"}, "data": {"name": "kerr"},
"layer": [
{"transform": [{"filter": "datum.s == 'psd'"}], "mark": {"type": "line", "strokeWidth": 2},
"encoding": {
"x": {"field": "f", "type": "quantitative", "scale": {"domain": [1, 100], "nice": false, "zero": false}, "axis": {"values": [20, 40, 60, 80, 100], "format": "d", "title": "Frequency [Hz]"}},
"y": {"field": "v", "type": "quantitative", "scale": {"domain": [-0.18, 3.85], "nice": false, "zero": false}, "axis": {"values": [0, 0.5, 1, 1.5, 2, 2.5, 3, 3.5], "format": ".1f", "title": "PSD"}},
"color": {"field": "s", "type": "nominal", "title": null, "scale": {"domain": ["psd","fit","c1","c2","c3","c4","c5"], "range": ["#1f77b4","#ff7f0e","#2ca02c","#d62728","#9467bd","#8c564b","#e377c2"]}, "legend": {"labelExpr": "datum.label=='psd'?'PSD':datum.label=='fit'?'Total Lorentzian fit':datum.label=='c1'?'Comp 1: f0=3.86 Hz, Q=3.95':datum.label=='c2'?'Comp 2: f0=8.49 Hz, Q=10.64':datum.label=='c3'?'Comp 3: f0=16.07 Hz, Q=18.25':datum.label=='c4'?'Comp 4: f0=21.76 Hz, Q=20.63':'Comp 5: f0=61.25 Hz, Q=82.85'"}},
"strokeDash": {"field": "s", "type": "nominal", "title": null, "scale": {"domain": ["psd","fit","c1","c2","c3","c4","c5"], "range": [[1,0],[8,4],[2,3.3],[2,3.3],[2,3.3],[2,3.3],[2,3.3]]}, "legend": {"labelExpr": "datum.label=='psd'?'PSD':datum.label=='fit'?'Total Lorentzian fit':datum.label=='c1'?'Comp 1: f0=3.86 Hz, Q=3.95':datum.label=='c2'?'Comp 2: f0=8.49 Hz, Q=10.64':datum.label=='c3'?'Comp 3: f0=16.07 Hz, Q=18.25':datum.label=='c4'?'Comp 4: f0=21.76 Hz, Q=20.63':'Comp 5: f0=61.25 Hz, Q=82.85'"}}
}},
{"transform": [{"filter": "datum.s == 'fit'"}], "mark": {"type": "line", "strokeWidth": 2.5},
"encoding": {"x": {"field": "f", "type": "quantitative", "axis": null}, "y": {"field": "v", "type": "quantitative"}, "color": {"field": "s", "type": "nominal", "title": null}, "strokeDash": {"field": "s", "type": "nominal", "title": null}}},
{"transform": [{"filter": "datum.s != 'psd' && datum.s != 'fit'"}], "mark": {"type": "line", "strokeWidth": 2},
"encoding": {"x": {"field": "f", "type": "quantitative", "axis": null}, "y": {"field": "v", "type": "quantitative"}, "color": {"field": "s", "type": "nominal", "title": null}, "strokeDash": {"field": "s", "type": "nominal", "title": null}}},
{"data": {"name": "kerr_f0"}, "mark": {"type": "rule", "color": "#1f77b4", "strokeWidth": 2, "strokeDash": [2, 3.3]},
"encoding": {"x": {"field": "f0", "type": "quantitative", "axis": {"orient": "top", "title": "1e−8", "labels": false, "ticks": false, "grid": false, "domain": false, "titleFontSize": 9, "titleAnchor": "start", "titleAlign": "left", "titlePadding": 2}}}}
],
"resolve": {"axis": {"x": "independent"}}},
{"width": 394, "height": 318, "title": {"text": "KS1\u00a0 a=0.9M at r=2.3M -\u00a0 M = 10 M⊙"}, "data": {"name": "ks1"},
"layer": [
{"transform": [{"filter": "datum.s == 'psd'"}], "mark": {"type": "line", "strokeWidth": 2},
"encoding": {
"x": {"field": "f", "type": "quantitative", "scale": {"domain": [1, 100], "nice": false, "zero": false}, "axis": {"values": [20, 40, 60, 80, 100], "format": "d", "title": "Frequency [Hz]"}},
"y": {"field": "v", "type": "quantitative", "scale": {"domain": [-0.066, 1.407], "nice": false, "zero": false}, "axis": {"values": [0, 0.2, 0.4, 0.6, 0.8, 1.0, 1.2], "format": ".1f", "title": "PSD"}},
"color": {"field": "s", "type": "nominal", "title": null, "scale": {"domain": ["psd","fit","c1","c2","c3","c4","c5"], "range": ["#1f77b4","#ff7f0e","#2ca02c","#d62728","#9467bd","#8c564b","#e377c2"]}, "legend": {"labelExpr": "datum.label=='psd'?'PSD':datum.label=='fit'?'Total Lorentzian fit':datum.label=='c1'?'Comp 1: f0=10.15 Hz, Q=5.34':datum.label=='c2'?'Comp 2: f0=17.48 Hz, Q=12.79':datum.label=='c3'?'Comp 3: f0=27.11 Hz, Q=14.31':datum.label=='c4'?'Comp 4: f0=49.40 Hz, Q=146640.30':'Comp 5: f0=82.91 Hz, Q=57.79'"}},
"strokeDash": {"field": "s", "type": "nominal", "title": null, "scale": {"domain": ["psd","fit","c1","c2","c3","c4","c5"], "range": [[1,0],[8,4],[2,3.3],[2,3.3],[2,3.3],[2,3.3],[2,3.3]]}, "legend": {"labelExpr": "datum.label=='psd'?'PSD':datum.label=='fit'?'Total Lorentzian fit':datum.label=='c1'?'Comp 1: f0=10.15 Hz, Q=5.34':datum.label=='c2'?'Comp 2: f0=17.48 Hz, Q=12.79':datum.label=='c3'?'Comp 3: f0=27.11 Hz, Q=14.31':datum.label=='c4'?'Comp 4: f0=49.40 Hz, Q=146640.30':'Comp 5: f0=82.91 Hz, Q=57.79'"}}
}},
{"transform": [{"filter": "datum.s == 'fit'"}], "mark": {"type": "line", "strokeWidth": 2.5},
"encoding": {"x": {"field": "f", "type": "quantitative", "axis": null}, "y": {"field": "v", "type": "quantitative"}, "color": {"field": "s", "type": "nominal", "title": null}, "strokeDash": {"field": "s", "type": "nominal", "title": null}}},
{"transform": [{"filter": "datum.s != 'psd' && datum.s != 'fit'"}], "mark": {"type": "line", "strokeWidth": 2},
"encoding": {"x": {"field": "f", "type": "quantitative", "axis": null}, "y": {"field": "v", "type": "quantitative"}, "color": {"field": "s", "type": "nominal", "title": null}, "strokeDash": {"field": "s", "type": "nominal", "title": null}}},
{"data": {"name": "ks1_f0"}, "mark": {"type": "rule", "color": "#1f77b4", "strokeWidth": 2, "strokeDash": [2, 3.3]},
"encoding": {"x": {"field": "f0", "type": "quantitative", "axis": {"orient": "top", "title": "1e−7", "labels": false, "ticks": false, "grid": false, "domain": false, "titleFontSize": 9, "titleAnchor": "start", "titleAlign": "left", "titlePadding": 2}}}}
],
"resolve": {"axis": {"x": "independent"}}}
], "spacing": 67, "bounds": "flush", "resolve": {"scale": {"color": "independent", "strokeDash": "independent"}}},
{"hconcat": [
{"width": 394, "height": 318, "title": {"text": "KS2\u00a0 a=0.9M at r=2.3M -\u00a0 M = 10 M⊙"}, "data": {"name": "ks2"},
"layer": [
{"transform": [{"filter": "datum.s == 'psd'"}], "mark": {"type": "line", "strokeWidth": 2},
"encoding": {
"x": {"field": "f", "type": "quantitative", "scale": {"domain": [1, 100], "nice": false, "zero": false}, "axis": {"values": [20, 40, 60, 80, 100], "format": "d", "title": "Frequency [Hz]"}},
"y": {"field": "v", "type": "quantitative", "scale": {"domain": [-0.19, 3.99], "nice": false, "zero": false}, "axis": {"values": [0, 0.5, 1, 1.5, 2, 2.5, 3, 3.5], "format": ".1f", "title": "PSD"}},
"color": {"field": "s", "type": "nominal", "title": null, "scale": {"domain": ["psd","fit","c1","c2","c3","c4","c5"], "range": ["#1f77b4","#ff7f0e","#2ca02c","#d62728","#9467bd","#8c564b","#e377c2"]}, "legend": {"labelExpr": "datum.label=='psd'?'PSD':datum.label=='fit'?'Total Lorentzian fit':datum.label=='c1'?'Comp 1: f0=11.17 Hz, Q=16.28':datum.label=='c2'?'Comp 2: f0=17.68 Hz, Q=15.80':datum.label=='c3'?'Comp 3: f0=35.89 Hz, Q=23.67':datum.label=='c4'?'Comp 4: f0=43.63 Hz, Q=2542.53':'Comp 5: f0=62.75 Hz, Q=1068.07'"}},
"strokeDash": {"field": "s", "type": "nominal", "title": null, "scale": {"domain": ["psd","fit","c1","c2","c3","c4","c5"], "range": [[1,0],[8,4],[2,3.3],[2,3.3],[2,3.3],[2,3.3],[2,3.3]]}, "legend": {"labelExpr": "datum.label=='psd'?'PSD':datum.label=='fit'?'Total Lorentzian fit':datum.label=='c1'?'Comp 1: f0=11.17 Hz, Q=16.28':datum.label=='c2'?'Comp 2: f0=17.68 Hz, Q=15.80':datum.label=='c3'?'Comp 3: f0=35.89 Hz, Q=23.67':datum.label=='c4'?'Comp 4: f0=43.63 Hz, Q=2542.53':'Comp 5: f0=62.75 Hz, Q=1068.07'"}}
}},
{"transform": [{"filter": "datum.s == 'fit'"}], "mark": {"type": "line", "strokeWidth": 2.5},
"encoding": {"x": {"field": "f", "type": "quantitative", "axis": null}, "y": {"field": "v", "type": "quantitative"}, "color": {"field": "s", "type": "nominal", "title": null}, "strokeDash": {"field": "s", "type": "nominal", "title": null}}},
{"transform": [{"filter": "datum.s != 'psd' && datum.s != 'fit'"}], "mark": {"type": "line", "strokeWidth": 2},
"encoding": {"x": {"field": "f", "type": "quantitative", "axis": null}, "y": {"field": "v", "type": "quantitative"}, "color": {"field": "s", "type": "nominal", "title": null}, "strokeDash": {"field": "s", "type": "nominal", "title": null}}},
{"data": {"name": "ks2_f0"}, "mark": {"type": "rule", "color": "#1f77b4", "strokeWidth": 2, "strokeDash": [2, 3.3]},
"encoding": {"x": {"field": "f0", "type": "quantitative", "axis": {"orient": "top", "title": "1e−7", "labels": false, "ticks": false, "grid": false, "domain": false, "titleFontSize": 9, "titleAnchor": "start", "titleAlign": "left", "titlePadding": 2}}}}
],
"resolve": {"axis": {"x": "independent"}}},
{"width": 405, "height": 318, "title": {"text": "KS3\u00a0 a=0.9M at r=2.3M -\u00a0 M = 10 M⊙"}, "data": {"name": "ks3"},
"layer": [
{"transform": [{"filter": "datum.s == 'psd'"}], "mark": {"type": "line", "strokeWidth": 2},
"encoding": {
"x": {"field": "f", "type": "quantitative", "scale": {"domain": [1, 100], "nice": false, "zero": false}, "axis": {"values": [20, 40, 60, 80, 100], "format": "d", "title": "Frequency [Hz]"}},
"y": {"field": "v", "type": "quantitative", "scale": {"domain": [-0.43, 9.13], "nice": false, "zero": false}, "axis": {"values": [0, 2, 4, 6, 8], "format": "d", "title": "PSD"}},
"color": {"field": "s", "type": "nominal", "title": null, "scale": {"domain": ["psd","fit","c1","c2","c3","c4","c5"], "range": ["#1f77b4","#ff7f0e","#2ca02c","#d62728","#9467bd","#8c564b","#e377c2"]}, "legend": {"labelExpr": "datum.label=='psd'?'PSD':datum.label=='fit'?'Total Lorentzian fit':datum.label=='c1'?'Comp 1: f0=4.35 Hz, Q=2.02':datum.label=='c2'?'Comp 2: f0=19.09 Hz, Q=10.65':datum.label=='c3'?'Comp 3: f0=34.12 Hz, Q=18730.75':datum.label=='c4'?'Comp 4: f0=47.61 Hz, Q=446.91':'Comp 5: f0=91.84 Hz, Q=15.39'"}},
"strokeDash": {"field": "s", "type": "nominal", "title": null, "scale": {"domain": ["psd","fit","c1","c2","c3","c4","c5"], "range": [[1,0],[8,4],[2,3.3],[2,3.3],[2,3.3],[2,3.3],[2,3.3]]}, "legend": {"labelExpr": "datum.label=='psd'?'PSD':datum.label=='fit'?'Total Lorentzian fit':datum.label=='c1'?'Comp 1: f0=4.35 Hz, Q=2.02':datum.label=='c2'?'Comp 2: f0=19.09 Hz, Q=10.65':datum.label=='c3'?'Comp 3: f0=34.12 Hz, Q=18730.75':datum.label=='c4'?'Comp 4: f0=47.61 Hz, Q=446.91':'Comp 5: f0=91.84 Hz, Q=15.39'"}}
}},
{"transform": [{"filter": "datum.s == 'fit'"}], "mark": {"type": "line", "strokeWidth": 2.5},
"encoding": {"x": {"field": "f", "type": "quantitative", "axis": null}, "y": {"field": "v", "type": "quantitative"}, "color": {"field": "s", "type": "nominal", "title": null}, "strokeDash": {"field": "s", "type": "nominal", "title": null}}},
{"transform": [{"filter": "datum.s != 'psd' && datum.s != 'fit'"}], "mark": {"type": "line", "strokeWidth": 2},
"encoding": {"x": {"field": "f", "type": "quantitative", "axis": null}, "y": {"field": "v", "type": "quantitative"}, "color": {"field": "s", "type": "nominal", "title": null}, "strokeDash": {"field": "s", "type": "nominal", "title": null}}},
{"data": {"name": "ks3_f0"}, "mark": {"type": "rule", "color": "#1f77b4", "strokeWidth": 2, "strokeDash": [2, 3.3]},
"encoding": {"x": {"field": "f0", "type": "quantitative", "axis": {"orient": "top", "title": "1e−7", "labels": false, "ticks": false, "grid": false, "domain": false, "titleFontSize": 9, "titleAnchor": "start", "titleAlign": "left", "titlePadding": 2}}}}
],
"resolve": {"axis": {"x": "independent"}}}
], "spacing": 53, "bounds": "flush", "resolve": {"scale": {"color": "independent", "strokeDash": "independent"}}},
{"width": 388, "height": 318, "title": {"text": "KS4\u00a0 a=0.9M at r=2.3M -\u00a0 M = 10 M⊙"}, "data": {"name": "ks4"},
"layer": [
{"transform": [{"filter": "datum.s == 'psd'"}], "mark": {"type": "line", "strokeWidth": 2},
"encoding": {
"x": {"field": "f", "type": "quantitative", "scale": {"domain": [1, 100], "nice": false, "zero": false}, "axis": {"values": [20, 40, 60, 80, 100], "format": "d", "title": "Frequency [Hz]"}},
"y": {"field": "v", "type": "quantitative", "scale": {"domain": [-0.09, 1.88], "nice": false, "zero": false}, "axis": {"values": [0, 0.25, 0.5, 0.75, 1, 1.25, 1.5, 1.75], "format": ".2f", "title": "PSD"}},
"color": {"field": "s", "type": "nominal", "title": null, "scale": {"domain": ["psd","fit","c1","c2","c3","c4","c5"], "range": ["#1f77b4","#ff7f0e","#2ca02c","#d62728","#9467bd","#8c564b","#e377c2"]}, "legend": {"labelExpr": "datum.label=='psd'?'PSD':datum.label=='fit'?'Total Lorentzian fit':datum.label=='c1'?'Comp 1: f0=10.46 Hz, Q=8.31':datum.label=='c2'?'Comp 2: f0=15.73 Hz, Q=11.06':datum.label=='c3'?'Comp 3: f0=26.69 Hz, Q=20.14':datum.label=='c4'?'Comp 4: f0=42.67 Hz, Q=5579.07':'Comp 5: f0=52.75 Hz, Q=8626.05'"}},
"strokeDash": {"field": "s", "type": "nominal", "title": null, "scale": {"domain": ["psd","fit","c1","c2","c3","c4","c5"], "range": [[1,0],[8,4],[2,3.3],[2,3.3],[2,3.3],[2,3.3],[2,3.3]]}, "legend": {"labelExpr": "datum.label=='psd'?'PSD':datum.label=='fit'?'Total Lorentzian fit':datum.label=='c1'?'Comp 1: f0=10.46 Hz, Q=8.31':datum.label=='c2'?'Comp 2: f0=15.73 Hz, Q=11.06':datum.label=='c3'?'Comp 3: f0=26.69 Hz, Q=20.14':datum.label=='c4'?'Comp 4: f0=42.67 Hz, Q=5579.07':'Comp 5: f0=52.75 Hz, Q=8626.05'"}}
}},
{"transform": [{"filter": "datum.s == 'fit'"}], "mark": {"type": "line", "strokeWidth": 2.5},
"encoding": {"x": {"field": "f", "type": "quantitative", "axis": null}, "y": {"field": "v", "type": "quantitative"}, "color": {"field": "s", "type": "nominal", "title": null}, "strokeDash": {"field": "s", "type": "nominal", "title": null}}},
{"transform": [{"filter": "datum.s != 'psd' && datum.s != 'fit'"}], "mark": {"type": "line", "strokeWidth": 2},
"encoding": {"x": {"field": "f", "type": "quantitative", "axis": null}, "y": {"field": "v", "type": "quantitative"}, "color": {"field": "s", "type": "nominal", "title": null}, "strokeDash": {"field": "s", "type": "nominal", "title": null}}},
{"data": {"name": "ks4_f0"}, "mark": {"type": "rule", "color": "#1f77b4", "strokeWidth": 2, "strokeDash": [2, 3.3]},
"encoding": {"x": {"field": "f0", "type": "quantitative", "axis": {"orient": "top", "title": "1e−6", "labels": false, "ticks": false, "grid": false, "domain": false, "titleFontSize": 9, "titleAnchor": "start", "titleAlign": "left", "titlePadding": 2}}}}
],
"resolve": {"axis": {"x": "independent"}}}
],
"spacing": 26, "center": true,
"resolve": {"scale": {"color": "independent", "strokeDash": "independent"}},
"config": {
"font": "DejaVu Sans Condensed",
"view": {"stroke": "#000", "strokeWidth": 1},
"axis": {"labelFont": "DejaVu Sans Condensed", "labelFontSize": 13.5, "labelColor": "#000", "tickColor": "#000", "tickSize": 4, "domain": false, "gridColor": "#cccccc", "gridWidth": 1, "labelFlush": false, "labelOverlap": false, "labelPadding": 1, "titleFont": "DejaVu Sans Condensed", "titleFontWeight": "normal", "titleColor": "#000"},
"axisX": {"titleFontSize": 16, "titlePadding": 7},
"axisY": {"titleFont": "DejaVu Sans", "titleFontSize": 17, "titlePadding": 0},
"title": {"font": "DejaVu Sans Condensed", "fontSize": 13, "fontWeight": "normal", "color": "#000", "offset": -11},
"legend": {"orient": "top-right", "offset": 6, "fillColor": "rgba(255,255,255,0.85)", "strokeColor": "#cccccc", "cornerRadius": 3, "padding": 4, "symbolType": "stroke", "symbolSize": 484, "symbolStrokeWidth": 2.5, "labelFont": "DejaVu Sans Condensed", "labelFontSize": 11.3, "labelColor": "#000", "labelLimit": 400, "labelOffset": 8, "rowPadding": 4}
}
}
